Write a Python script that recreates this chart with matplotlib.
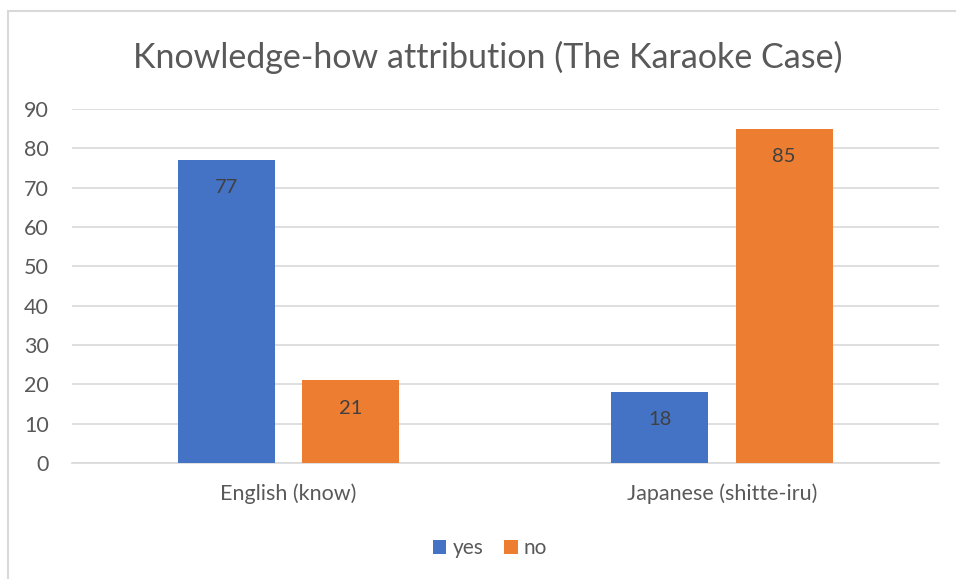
import matplotlib
matplotlib.use("Agg")
import matplotlib.pyplot as plt
import numpy as np
from matplotlib.lines import Line2D

plt.rcParams["font.family"] = ["Lato", "DejaVu Sans"]

categories = ["English (know)", "Japanese (shitte-iru)"]
series_names = ["yes", "no"]
yes_vals = [77, 18]
no_vals = [21, 85]
y_ticks = [0, 10, 20, 30, 40, 50, 60, 70, 80, 90]

colors = ["#4472C4", "#ED7D31"]
text_col = "#595959"
grid_col = "#D9D9D9"

fig = plt.figure(figsize=(9.56, 5.79), dpi=100)
ax = fig.add_axes([72 / 956, 116 / 579, (938.7 - 72) / 956, (463 - 109) / 579])

x = np.arange(len(categories))
width = 0.224
offset = 0.1435

for vals, name, col, sign in [(yes_vals, series_names[0], colors[0], -1),
                              (no_vals, series_names[1], colors[1], 1)]:
    bars = ax.bar(x + sign * offset, vals, width, color=col, label=name, zorder=3)
    for b, v in zip(bars, vals):
        ax.annotate(f"{v}", (b.get_x() + b.get_width() / 2, v),
                    xytext=(0, -20), textcoords="offset points",
                    ha="center", va="center", fontsize=14.5, color="#404040", zorder=4)

ax.set_xlim(-0.5, 1.5)
ax.set_ylim(0, 90)
ax.set_yticks(y_ticks)
ax.set_xticks(x)
ax.set_xticklabels(categories)
ax.tick_params(axis="both", length=0, labelsize=15.5, labelcolor=text_col)
ax.tick_params(axis="y", pad=16.5)
ax.tick_params(axis="x", pad=15)
ax.grid(axis="y", color=grid_col, linewidth=1.2, zorder=0)
for s in ["top", "right", "left"]:
    ax.spines[s].set_visible(False)
ax.spines["bottom"].set_color(grid_col)
ax.spines["bottom"].set_linewidth(1.2)

fig.text(488 / 956, 1 - 57 / 579, "Knowledge-how attribution (The Karaoke Case)",
         ha="center", va="center", fontsize=24.5, color=text_col)

leg = fig.legend(loc="center", bbox_to_anchor=(490 / 956, 1 - 548 / 579), ncol=2,
                 frameon=False, fontsize=15, handlelength=0.65, handleheight=0.65,
                 handletextpad=0.3, columnspacing=1.0)
for t in leg.get_texts():
    t.set_color(text_col)

# chart frame (left and top edges visible)
fig.add_artist(Line2D([7.5 / 956, 7.5 / 956], [0, 1 - 10.5 / 579], color=grid_col, lw=1.5))
fig.add_artist(Line2D([7.5 / 956, 1], [1 - 10.5 / 579, 1 - 10.5 / 579], color=grid_col, lw=1.5))

fig.savefig("out.png", dpi=100)
